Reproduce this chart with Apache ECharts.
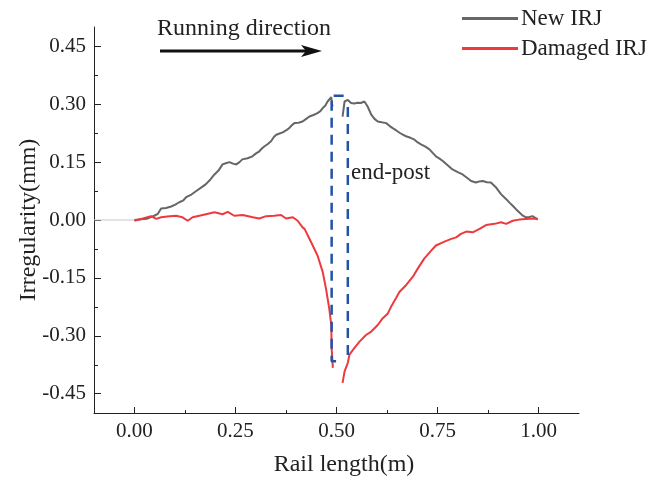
<!DOCTYPE html>
<html>
<head>
<meta charset="utf-8">
<script src="https://cdn.jsdelivr.net/npm/echarts@6/dist/echarts.min.js"></script>
<style>
html,body{margin:0;padding:0;background:#fff;}
#chart{width:667px;height:482px;}
</style>
</head>
<body>
<div id="chart"></div>
<script>
// ---- data ----
const xMajorTicks = [0, 0.25, 0.5, 0.75, 1.0];
const xMinorTicks = [0.125, 0.375, 0.625, 0.875];
const yMajorTicks = [-0.45, -0.30, -0.15, 0, 0.15, 0.30, 0.45];
const yMinorTicks = [-0.375, -0.225, -0.075, 0.075, 0.225, 0.375];

const newIRJ_before = [
  [0.000,0.000],[0.030,0.003],[0.049,0.011],[0.058,0.016],[0.066,0.030],[0.078,0.031],[0.091,0.035],
  [0.101,0.040],[0.111,0.046],[0.120,0.050],[0.128,0.059],[0.141,0.066],[0.153,0.075],[0.165,0.084],
  [0.177,0.093],[0.188,0.105],[0.198,0.118],[0.208,0.128],[0.218,0.144],[0.226,0.147],[0.235,0.150],
  [0.244,0.146],[0.252,0.144],[0.260,0.150],[0.267,0.157],[0.280,0.160],[0.292,0.165],[0.300,0.172],
  [0.309,0.178],[0.316,0.186],[0.322,0.191],[0.330,0.197],[0.338,0.204],[0.345,0.215],[0.351,0.221],
  [0.359,0.224],[0.367,0.227],[0.375,0.232],[0.383,0.238],[0.390,0.246],[0.396,0.251],[0.406,0.252],
  [0.416,0.255],[0.425,0.262],[0.433,0.268],[0.443,0.272],[0.453,0.277],[0.460,0.282],[0.466,0.290],
  [0.472,0.296],[0.478,0.307],[0.487,0.318],[0.490,0.294]
];
const newIRJ_after = [
  [0.515,0.268],[0.520,0.307],[0.528,0.311],[0.536,0.303],[0.544,0.302],[0.552,0.304],[0.560,0.303],
  [0.569,0.307],[0.577,0.294],[0.586,0.273],[0.594,0.262],[0.602,0.255],[0.612,0.253],[0.623,0.251],
  [0.631,0.244],[0.639,0.238],[0.648,0.232],[0.656,0.226],[0.664,0.221],[0.672,0.217],[0.683,0.213],
  [0.693,0.208],[0.701,0.201],[0.709,0.196],[0.720,0.190],[0.730,0.183],[0.738,0.174],[0.746,0.165],
  [0.755,0.159],[0.763,0.153],[0.775,0.142],[0.787,0.131],[0.800,0.124],[0.812,0.118],[0.822,0.110],
  [0.833,0.101],[0.845,0.097],[0.853,0.100],[0.862,0.101],[0.872,0.098],[0.882,0.097],[0.895,0.084],
  [0.907,0.067],[0.920,0.054],[0.928,0.045],[0.936,0.037],[0.944,0.028],[0.952,0.020],[0.960,0.012],
  [0.969,0.007],[0.977,0.008],[0.985,0.010],[0.998,0.001]
];
const damagedIRJ_before = [
  [0.000,-0.002],[0.021,0.004],[0.041,0.010],[0.054,0.003],[0.066,0.007],[0.087,0.010],[0.103,0.011],
  [0.119,0.007],[0.132,-0.002],[0.144,0.007],[0.169,0.013],[0.198,0.020],[0.218,0.015],[0.231,0.021],
  [0.247,0.011],[0.268,0.013],[0.293,0.007],[0.309,0.004],[0.326,0.010],[0.346,0.011],[0.363,0.013],
  [0.375,0.004],[0.392,0.007],[0.404,-0.002],[0.416,-0.019],[0.421,-0.023],[0.437,-0.057],[0.453,-0.092],
  [0.466,-0.135],[0.474,-0.178],[0.482,-0.229],[0.487,-0.272],[0.488,-0.332],[0.491,-0.383]
];
const damagedIRJ_after = [
  [0.515,-0.422],[0.520,-0.392],[0.528,-0.370],[0.532,-0.349],[0.544,-0.332],[0.557,-0.315],[0.573,-0.298],
  [0.586,-0.289],[0.602,-0.272],[0.614,-0.255],[0.627,-0.242],[0.635,-0.225],[0.647,-0.203],[0.656,-0.186],
  [0.672,-0.169],[0.689,-0.147],[0.701,-0.126],[0.717,-0.100],[0.738,-0.075],[0.746,-0.066],[0.767,-0.056],
  [0.784,-0.049],[0.796,-0.045],[0.808,-0.036],[0.821,-0.030],[0.837,-0.032],[0.854,-0.023],[0.870,-0.013],
  [0.891,-0.010],[0.907,-0.006],[0.920,-0.010],[0.936,-0.002],[0.952,0.001],[0.977,0.003],[0.998,0.003]
];
const baseline = [[-0.1,0],[0,0]];
const endPostLeft = [[0.499,-0.366],[0.488,-0.366],[0.488,0.322],[0.519,0.322]];
const endPostRight = [[0.528,0.293],[0.528,-0.352]];

// ---- chart ----
const FONT = '"Liberation Serif","Times New Roman",serif';
const GRAY = '#666666', RED = '#ee3a3f', BLUE = '#2352a6';
const chart = echarts.init(document.getElementById('chart'), null, {renderer:'canvas'});

const option = {
  animation:false,
  backgroundColor:'#fff',
  grid:{left:94, right:88, top:27, bottom:68},
  legend:{
    orient:'vertical', left:457, top:2, itemGap:7,
    itemWidth:56, itemHeight:3, icon:'rect',
    data:['New IRJ','Damaged IRJ'],
    textStyle:{fontFamily:FONT, fontSize:23, color:'#222', padding:[0,0,0,-2]}
  },
  xAxis:[
    {type:'value', min:-0.1, max:1.1, position:'bottom',
     axisLine:{show:true, onZero:false, lineStyle:{color:'#222', width:1}},
     axisTick:{show:true, inside:true, length:6, customValues:xMajorTicks, lineStyle:{color:'#222'}},
     axisLabel:{show:true, customValues:xMajorTicks, margin:8, formatter:v=>v.toFixed(2),
       fontFamily:FONT, fontSize:21, color:'#222'},
     splitLine:{show:false},
     name:'Rail length(m)', nameLocation:'middle', nameGap:40, nameMoveOverlap:false,
     nameTextStyle:{fontFamily:FONT, fontSize:24, color:'#222', padding:[0,0,0,15]}},
    {type:'value', min:-0.1, max:1.1, position:'bottom',
     axisLine:{show:false, onZero:false},
     axisTick:{show:true, inside:true, length:3, customValues:xMinorTicks, lineStyle:{color:'#222'}},
     axisLabel:{show:false}, splitLine:{show:false}}
  ],
  yAxis:[
    {type:'value', min:-0.5, max:0.5, position:'left',
     axisLine:{show:true, onZero:false, lineStyle:{color:'#222', width:1}},
     axisTick:{show:true, inside:true, length:7, customValues:yMajorTicks, lineStyle:{color:'#222'}},
     axisLabel:{show:true, customValues:yMajorTicks, margin:8, formatter:v=>v.toFixed(2),
       fontFamily:FONT, fontSize:21, color:'#222'},
     splitLine:{show:false},
     name:'Irregularity(mm)', nameLocation:'middle', nameGap:53, nameMoveOverlap:false,
     nameTextStyle:{fontFamily:FONT, fontSize:24, color:'#222'}},
    {type:'value', min:-0.5, max:0.5, position:'left',
     axisLine:{show:false, onZero:false},
     axisTick:{show:true, inside:true, length:4, customValues:yMinorTicks, lineStyle:{color:'#222'}},
     axisLabel:{show:false}, splitLine:{show:false}}
  ],
  series:[
    {type:'line', name:'baseline', data:baseline, symbol:'none', silent:true,
     lineStyle:{color:'#c8c8c8', width:1}},
    {type:'line', name:'New IRJ', data:newIRJ_before, symbol:'none', color:GRAY,
     lineStyle:{color:GRAY, width:2}},
    {type:'line', name:'New IRJ', data:newIRJ_after, symbol:'none', color:GRAY,
     lineStyle:{color:GRAY, width:2}},
    {type:'line', name:'Damaged IRJ', data:damagedIRJ_before, symbol:'none', color:RED,
     lineStyle:{color:RED, width:2}},
    {type:'line', name:'Damaged IRJ', data:damagedIRJ_after, symbol:'none', color:RED,
     lineStyle:{color:RED, width:2}},
    {type:'line', name:'endpostL', data:endPostLeft, symbol:'none', silent:true,
     lineStyle:{color:BLUE, width:2.5, type:[10,7]}},
    {type:'line', name:'endpostR', data:endPostRight, symbol:'none', silent:true,
     lineStyle:{color:BLUE, width:2.5, type:[10,7]}}
  ],
  graphic:[
    {type:'text', left:157, top:17, style:{text:'Running direction', fontFamily:FONT, fontSize:24, fill:'#222'}},
    {type:'line', shape:{x1:160, y1:51, x2:310, y2:51}, style:{stroke:'#111', lineWidth:3}},
    {type:'polygon', shape:{points:[[301,45],[322,51],[301,57],[306,51]]}, style:{fill:'#111'}},
    {type:'text', left:351, top:161, style:{text:'end-post', fontFamily:FONT, fontSize:23, fill:'#222'}}
  ]
};
chart.setOption(option);
</script>
</body>
</html>
